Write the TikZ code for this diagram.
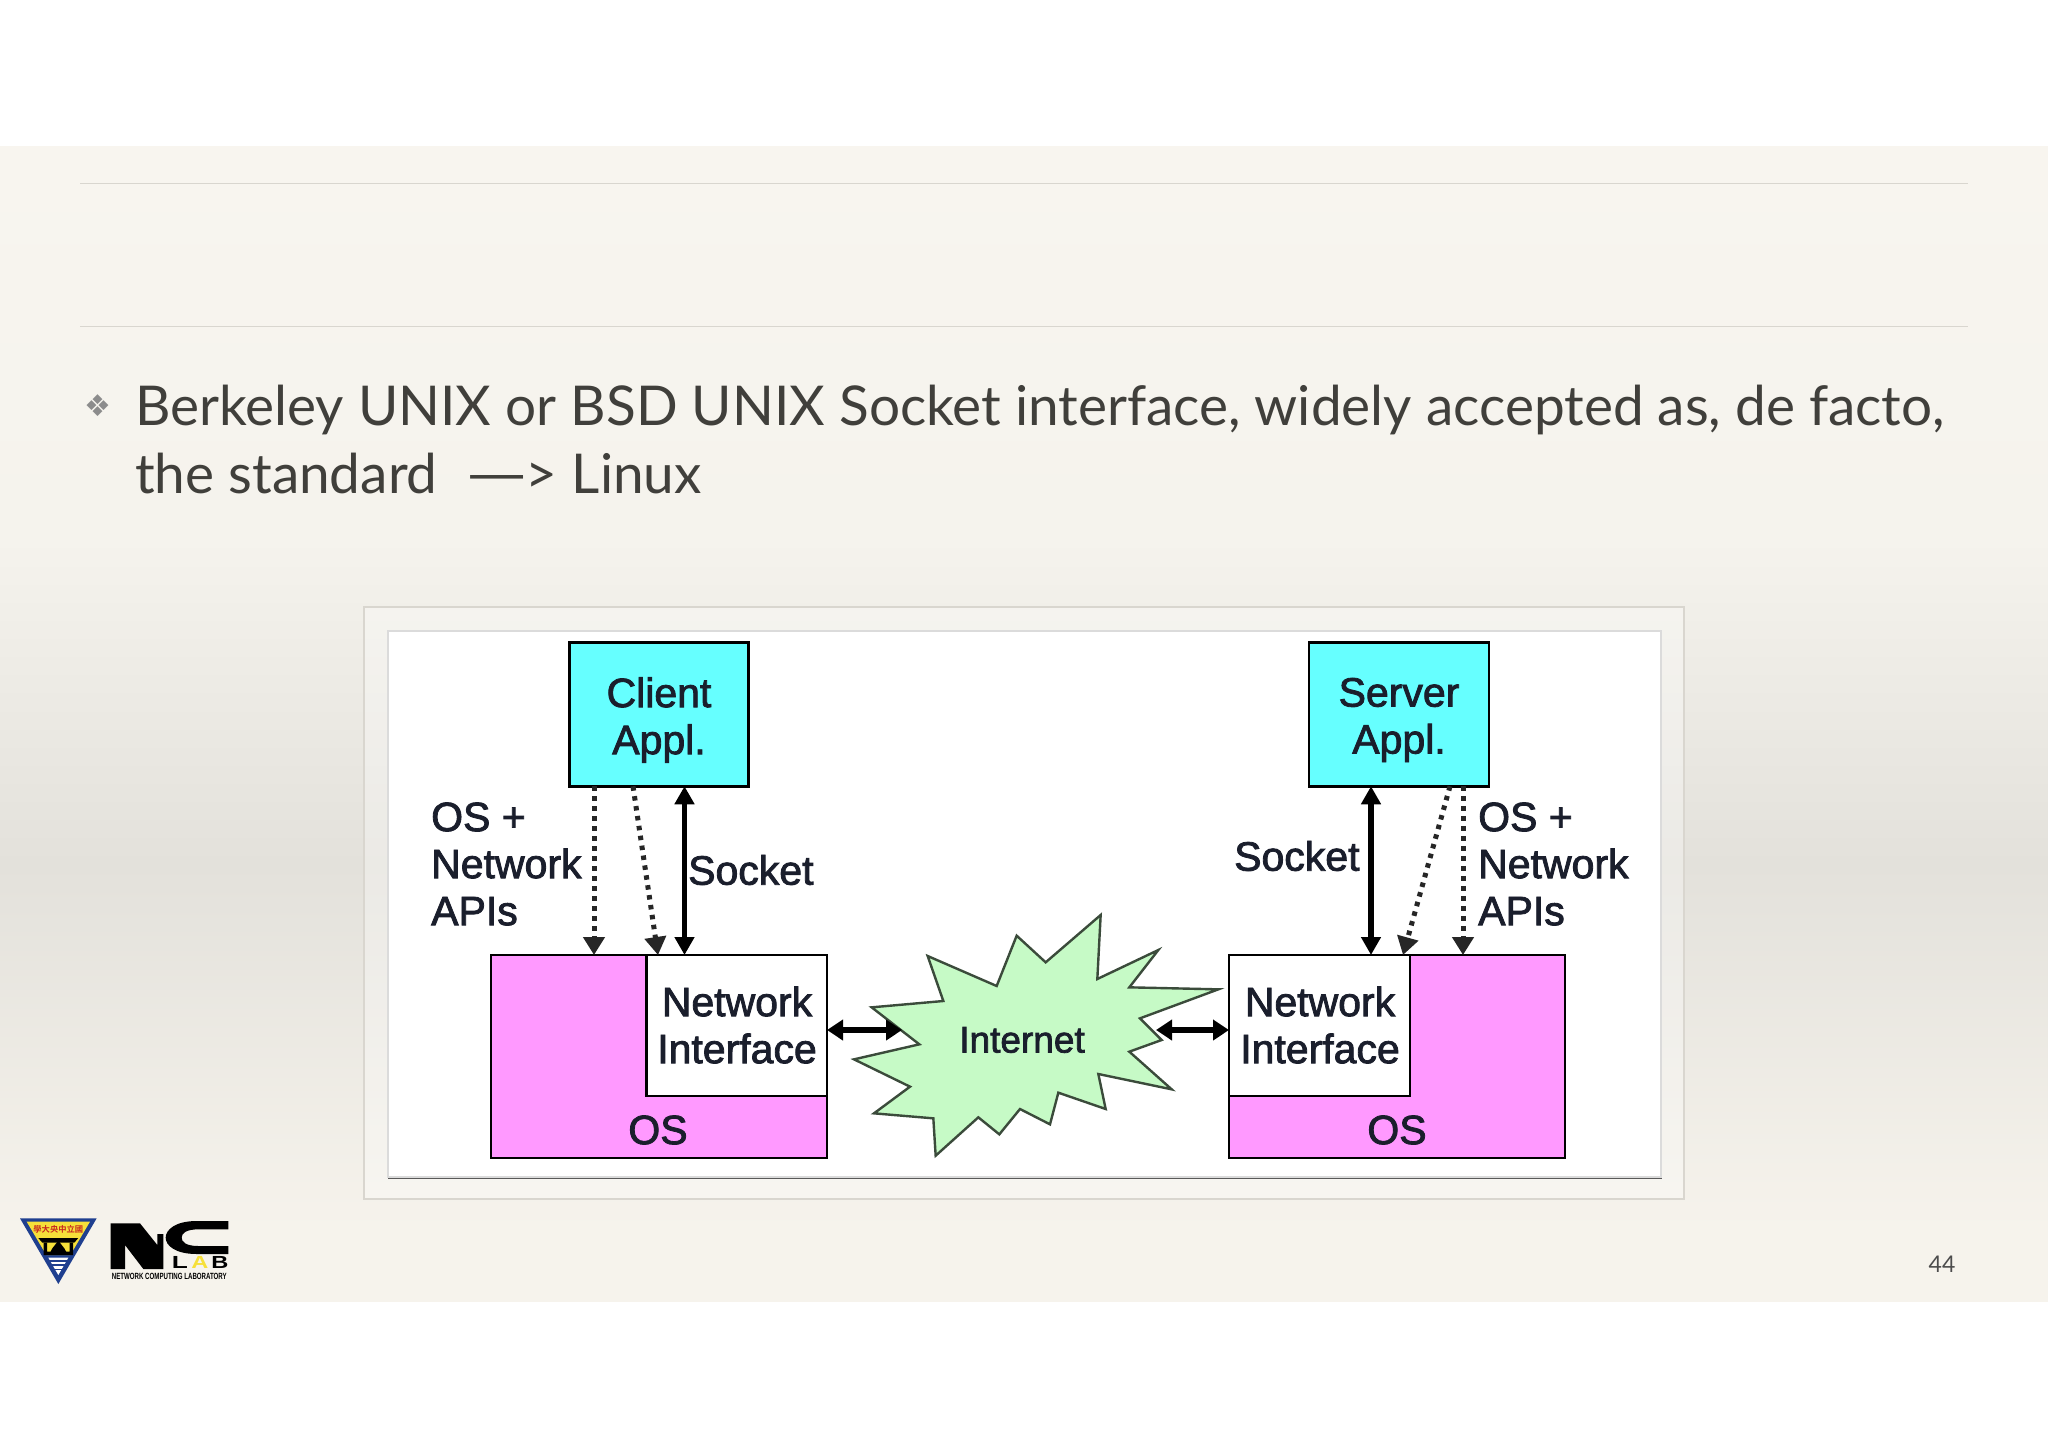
\documentclass[tikz,border=0pt]{standalone}
\usepackage{fontspec}
\usetikzlibrary{arrows.meta}
\setmainfont{Lato}
\newfontfamily\diagfont[FakeBold=2]{Liberation Sans}
\newfontfamily\pagefont{Lato}
\newfontfamily\bulletfont{DejaVu Sans}
\newfontfamily\logofont{Liberation Sans}[BoldFont={Liberation Sans Bold}]
\newfontfamily\cjkfont{Noto Sans CJK TC}[BoldFont={Noto Sans CJK TC Bold}]
\definecolor{slidetext}{HTML}{403F3B}
\definecolor{rulecol}{HTML}{D9D6CF}
\definecolor{bgA}{HTML}{F8F5EF}
\definecolor{bgB}{HTML}{F5F3ED}
\definecolor{bgC}{HTML}{E3E1DB}
\definecolor{bgD}{HTML}{F6F3EC}
\definecolor{appcol}{HTML}{66FFFF}
\definecolor{oscol}{HTML}{FF99FF}
\definecolor{starcol}{HTML}{C6FAC6}
\definecolor{inktxt}{HTML}{1A1E2C}
\definecolor{logoblue}{HTML}{1F3F8F}
\definecolor{logoyel}{HTML}{F6E03A}
\definecolor{logored}{HTML}{C8281E}
\tikzset{
  box/.style={draw=black,line width=2.8pt,inner sep=0pt,outer sep=0pt},
  txt/.style={font=\diagfont\fontsize{41}{47}\selectfont,text=inktxt,inner sep=0pt,align=center},
  ltxt/.style={txt,align=left,anchor=west},
  solidar/.style={line width=5.2pt,{Triangle[length=18pt,width=19pt]}-{Triangle[length=18pt,width=19pt]},black},
  dotar/.style={line width=5pt,dash pattern=on 4.5pt off 5.5pt,-{Triangle[length=18pt,width=21pt]},black!85},
  horar/.style={line width=6pt,{Triangle[length=16pt,width=20pt]}-{Triangle[length=16pt,width=20pt]},black},
  rulel/.style={draw=rulecol,line width=1.5pt},
  bodyt/.style={font=\fontsize{54.9}{68}\selectfont,text=slidetext,inner sep=0pt,anchor=base west}
}
\begin{document}
\begin{tikzpicture}[x=1pt,y=-1pt]
\useasboundingbox (0,0) rectangle (2048,1448);
\fill[white] (0,0) rectangle (2048,1448);
% background
\shade[top color=bgA,bottom color=bgB] (0,146) rectangle (2048,540);
\shade[top color=bgB,bottom color=bgC] (0,539) rectangle (2048,865);
\shade[top color=bgC,bottom color=bgD] (0,864) rectangle (2048,1230);
\fill[bgD] (0,1229) rectangle (2048,1302);
% rules
\draw[rulel] (80,183.3) -- (1968,183.3);
\draw[rulel] (80,326.7) -- (1968,326.7);
% body
\node[font=\bulletfont\fontsize{30}{30}\selectfont,text=black!45,inner sep=0pt] (bullet) at (98,406) {❖};
\node[bodyt] (line1) at (135,425) {Berkeley UNIX or BSD UNIX Socket interface, widely accepted as, de facto,};
\node[bodyt] (line2) at (135,493) {the standard \ \scalebox{1.45}[1]{—}\kern-3pt> Linux};
% card
\fill[white,fill opacity=.3] (364,607) rectangle (1684,1199);
\draw[rulecol,line width=1.3pt] (364,607) rectangle (1684,1199);
\fill[black!65] (388,1174) rectangle (1662,1179);
\fill[white,draw=black!14,line width=1.2pt] (388,631) rectangle (1661,1177);
% boxes
\node[box,fill=appcol,minimum width=178.5pt,minimum height=143.5pt] (client) at (659,714.5) {};
\node[box,fill=appcol,minimum width=180pt,minimum height=143.5pt] (server) at (1399,714.5) {};
\node[box,fill=oscol,minimum width=336pt,minimum height=203pt] (osL) at (659,1056.5) {};
\node[box,fill=white,minimum width=180.5pt,minimum height=141pt] (niL) at (736.75,1025.5) {};
\node[box,fill=oscol,minimum width=336pt,minimum height=203pt] (osR) at (1397,1056.5) {};
\node[box,fill=white,minimum width=181pt,minimum height=141pt] (niR) at (1319.5,1025.5) {};
% labels in boxes
\node[txt] (clientT) at (659,720) {Client\\Appl.};
\node[txt] (serverT) at (1399,720) {Server\\Appl.};
\node[txt] (niLT) at (737,1025) {Network\\Interface};
\node[txt] (niRT) at (1320,1025) {Network\\Interface};
\node[txt] (osLT) at (658,1130) {OS};
\node[txt] (osRT) at (1397,1130) {OS};
% star
\begin{scope}[xshift=840pt,yshift=-900pt,x=.33333pt,y=-.33333pt]
\draw[fill=starcol,draw=black!70!starcol,line width=2.4pt,line join=miter,miter limit=6]
 (782,45)--(772,237)--(955,150)--(868,262)--(1135,268)--(900,355)--(965,420)--(868,455)--(995,568)--(775,522)--(797,627)--(655,578)--(630,673)--(540,627)--(478,703)--(415,652)--(287,767)--(280,655)--(102,640)--(210,560)--(42,478)--(238,433)--(95,322)--(310,303)--(263,168)--(470,258)--(530,107)--(617,187)--cycle;
\end{scope}
\node[txt,font=\diagfont\fontsize{37}{40}\selectfont] (inet) at (1022,1040) {Internet};
% free ends
\coordinate (aL1) at (594,870);
\coordinate (aL2t) at (633,870);
\coordinate (aL2b) at (658,870);
\coordinate (aL3) at (684.5,870);
\coordinate (aR1) at (1371,870);
\coordinate (aR2t) at (1450,870);
\coordinate (aR2b) at (1403,870);
\coordinate (aR3) at (1463,870);
\coordinate (starL) at (902,1030);
\coordinate (starR) at (1156,1030);
% connectors
\draw[dotar] (client.south -| aL1) -- (osL.north -| aL1);
\draw[dotar] (client.south -| aL2t) -- (niL.north -| aL2b);
\draw[solidar] (client.south -| aL3) -- (niL.north -| aL3);
\draw[solidar] (server.south -| aR1) -- (niR.north -| aR1);
\draw[dotar] (server.south -| aR2t) -- (niR.north -| aR2b);
\draw[dotar] (server.south -| aR3) -- (osR.north -| aR3);
\draw[horar] (niL.east |- starL) -- (starL);
\draw[horar] (starR) -- (niR.west |- starR);
% outside labels
\node[ltxt] (apiL) at (431,864) {OS +\\Network\\APIs};
\node[ltxt] (sockL) at (688,870) {Socket};
\node[ltxt] (sockR) at (1234,856) {Socket};
\node[ltxt] (apiR) at (1478,864) {OS +\\Network\\APIs};
% page number
\node[font=\pagefont\fontsize{23}{23}\selectfont,text=black!70,inner sep=0pt] (pg) at (1942,1264) {44};
% crest
\begin{scope}[xshift=15pt,yshift=-1210pt,x=.33333pt,y=-.33333pt]
\fill[logoblue] (15,25)--(245,25)--(130,222)--cycle;
\fill[logoyel] (35,35)--(225,35)--(166,135)--(94,135)--cycle;
\fill[white] (100,143)--(160,143)--(130,195)--cycle;
\draw[logoblue,line width=1.2pt] (100,153)--(160,153) (108,165)--(152,165) (116,178)--(144,178);
\fill[black] (70,84)--(190,84)--(178,98)--(82,98)--cycle;
\fill[black] (86,98) rectangle (96,135) (164,98) rectangle (174,135) (96,125) rectangle (164,135);
\fill[black] (130,92)--(112,115)--(105,128)--(155,128)--(148,115)--cycle;
\node[font=\cjkfont\bfseries\fontsize{8.3}{8.3}\selectfont,text=logored,inner sep=0pt] (crest) at (130,58) {學大央中立國};
\end{scope}
% NC logo
\begin{scope}[xshift=100pt,yshift=-1210pt,x=.33333pt,y=-.33333pt]
\fill[black] (32,40)--(120,40)--(172,105)--(172,72)--(190,72)--(190,177)--(130,177)--(75,105)--(75,177)--(32,177)--cycle;
\fill[black] (385,33)--(290,33) .. controls (225,33) and (197,60) .. (197,83) .. controls (197,106) and (225,132) .. (290,132)--(385,132)--(385,108)--(295,108) .. controls (258,108) and (245,96) .. (245,83) .. controls (245,70) and (258,58) .. (295,58)--(385,58)--cycle;
\node[font=\logofont\bfseries\fontsize{17.5}{17.5}\selectfont,text=black,inner sep=0pt,xscale=1.5,transform shape] (labL) at (240,157) {L};
\node[font=\logofont\bfseries\fontsize{17.5}{17.5}\selectfont,text=logoyel,inner sep=0pt,xscale=1.35,transform shape] (labA) at (300,157) {A};
\node[font=\logofont\bfseries\fontsize{17.5}{17.5}\selectfont,text=black,inner sep=0pt,xscale=1.35,transform shape] (labB) at (360,157) {B};
\node[font=\logofont\bfseries\fontsize{9}{9}\selectfont,text=black,inner sep=0pt,xscale=.68,transform shape] (labT) at (208,198) {NETWORK COMPUTING LABORATORY};
\end{scope}
\end{tikzpicture}
\end{document}
